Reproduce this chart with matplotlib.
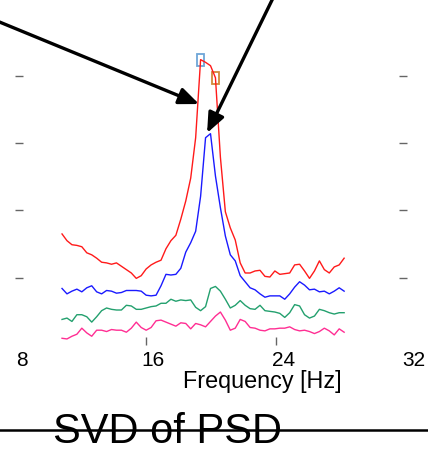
import numpy as np
import matplotlib
matplotlib.use("Agg")
import matplotlib.pyplot as plt
from matplotlib.patches import Rectangle
from matplotlib.lines import Line2D
from matplotlib.transforms import ScaledTranslation

plt.rcParams['font.family'] = ['Liberation Sans', 'DejaVu Sans']

# frequency grid (Hz), evenly spaced bins
freq = np.linspace(10.88, 28.15, 58)

# singular values of the PSD matrix, dB
sv1 = [-43.5, -44.5, -45.1, -45.2, -45.4, -46.3, -46.6, -47.1, -47.7, -47.8,
       -48.0, -47.8, -48.3, -48.8, -49.3, -50.1, -49.7, -48.7, -48.1, -47.7,
       -47.4, -45.7, -44.5, -43.7, -41.3, -38.6, -35.2, -29.2, -17.6, -18.0,
       -18.5, -20.3, -32.1, -40.2, -42.6, -44.4, -47.8, -49.3, -49.3, -49.0,
       -48.9, -49.8, -49.9, -49.0, -49.5, -49.4, -49.3, -48.1, -48.0, -49.0,
       -50.1, -49.0, -47.5, -48.8, -49.3, -48.4, -48.1, -47.1]
sv2 = [-51.6, -52.4, -52.0, -51.7, -52.1, -51.5, -51.2, -52.1, -52.4, -51.9,
       -52.0, -52.3, -52.2, -51.9, -51.9, -51.9, -52.0, -52.6, -52.7, -52.6,
       -51.2, -49.5, -49.6, -49.5, -48.6, -46.2, -44.8, -43.1, -37.9, -29.2,
       -28.6, -34.9, -39.6, -43.8, -46.6, -47.5, -49.7, -50.6, -51.5, -51.8,
       -52.4, -52.9, -52.7, -52.7, -52.7, -53.2, -52.4, -51.4, -50.6, -51.1,
       -51.8, -51.7, -52.1, -52.0, -52.4, -52.0, -51.5, -52.0]
sv3 = [-56.2, -56.0, -56.5, -55.5, -55.5, -55.8, -56.6, -55.8, -54.9, -54.5,
       -54.7, -54.8, -54.8, -54.1, -54.2, -54.7, -54.7, -54.5, -54.3, -54.2,
       -53.8, -53.8, -53.2, -53.5, -53.3, -53.4, -53.3, -54.4, -54.9, -54.3,
       -51.6, -51.3, -52.0, -53.2, -54.5, -54.1, -53.4, -54.1, -54.6, -54.7,
       -54.1, -54.9, -55.0, -55.1, -55.3, -55.9, -55.2, -54.0, -54.2, -55.5,
       -56.0, -55.7, -54.7, -54.9, -55.2, -55.4, -55.2, -55.2]
sv4 = [-59.0, -59.1, -58.7, -58.4, -57.5, -58.2, -58.7, -57.8, -57.8, -58.0,
       -57.7, -57.8, -57.8, -58.1, -57.5, -56.6, -57.4, -57.8, -57.4, -56.4,
       -56.3, -56.6, -56.9, -57.2, -56.7, -56.8, -57.6, -56.8, -57.0, -57.3,
       -56.5, -55.7, -55.1, -56.3, -57.8, -57.5, -56.2, -56.5, -57.4, -57.5,
       -57.8, -57.9, -57.6, -57.6, -57.5, -57.5, -57.3, -57.7, -57.9, -57.8,
       -58.0, -58.3, -58.0, -57.5, -57.9, -58.5, -57.6, -58.1]

xticks = [8, 16, 24, 32]
yticks = [-50, -40, -30, -20]
peak_idx = [28, 31]
peak_colors = ['#6ea6d8', '#d18a3a']

fig = plt.figure(figsize=(4.28, 4.53), dpi=100)
ax = fig.add_axes([0.035, 0.2384, 0.916, 0.7616])

ax.plot(freq, sv1, color='#ff1a1a', lw=1.0)
ax.plot(freq, sv2, color='#1a1aff', lw=1.0)
ax.plot(freq, sv3, color='#23a06e', lw=1.0)
ax.plot(freq, sv4, color='#ff2e93', lw=1.0)

# boxes around the picked peaks
for i, c in zip(peak_idx, peak_colors):
    ax.add_patch(Rectangle((freq[i] - 0.22, sv1[i] - 0.9), 0.44, 1.8,
                           fill=False, ec=c, lw=1.3))

arrow = dict(arrowstyle='-|>,head_length=0.6,head_width=0.25', color='k',
             lw=2.4, mutation_scale=20, shrinkA=0, shrinkB=0)
ax.annotate('', xy=(19.27, -24.2), xytext=(5.24, -10.2),
            arrowprops=arrow, annotation_clip=False)
ax.annotate('', xy=(19.76, -28.5), xytext=(24.33, -5.8),
            arrowprops=arrow, annotation_clip=False)

ax.set_xlim(8, 32)
ax.set_ylim(-60, -8.74)
ax.set_xticks(xticks)
ax.set_yticks(yticks)
ax.set_yticklabels([])
for s in ax.spines.values():
    s.set_visible(False)
ax.tick_params(direction='in', length=6, width=1, color='#666666',
               labelsize=15, pad=4, right=True)
xt = ax.xaxis.get_major_ticks()
xt[0].tick1line.set_visible(False)
xt[-1].tick1line.set_visible(False)
for lbl in ax.get_xticklabels():
    lbl.set_transform(lbl.get_transform() +
                      ScaledTranslation(0.07, 0, fig.dpi_scale_trans))

ax.set_xlabel('Frequency [Hz]', fontsize=16.8, va='baseline')
ax.xaxis.set_label_coords(0.630, -0.1255)

fig.text(167.5 / 428, 0.022, 'SVD of PSD', fontsize=30, ha='center',
         va='baseline')
fig.add_artist(Line2D([0, 1], [0.0508, 0.0508], color='k', lw=1.8,
                      transform=fig.transFigure))

fig.savefig('out.png', dpi=100)
